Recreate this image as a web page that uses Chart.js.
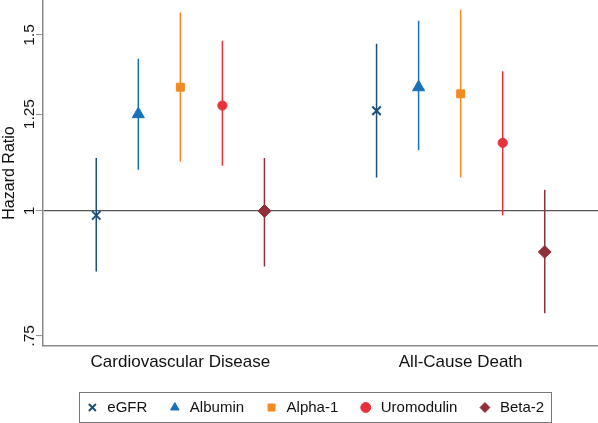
<!DOCTYPE html>
<html>
<head>
<meta charset="utf-8">
<script src="https://cdn.jsdelivr.net/npm/chart.js@4.4.1/dist/chart.umd.min.js"></script>
<style>
  html, body { margin: 0; padding: 0; background: #fff; }
  #wrap { width: 598px; height: 423px; position: relative; }
</style>
</head>
<body>
<div id="wrap"><canvas id="hrChart"></canvas></div>
<script>
// --- Data ---
const outcomes = ['Cardiovascular Disease', 'All-Cause Death'];
const biomarkers = ['eGFR', 'Albumin', 'Alpha-1', 'Uromodulin', 'Beta-2'];
const cvdHR = [0.99, 1.25, 1.33, 1.275, 1.00];
const cvdLow = [0.87, 1.10, 1.12, 1.11, 0.88];
const cvdHigh = [1.13, 1.42, 1.58, 1.48, 1.13];
const deathHR = [1.26, 1.33, 1.31, 1.17, 0.91];
const deathLow = [1.08, 1.15, 1.08, 0.99, 0.79];
const deathHigh = [1.47, 1.55, 1.59, 1.38, 1.05];
const yTicks = [0.75, 1, 1.25, 1.5];
const yTickLabels = ['.75', '1', '1.25', '1.5'];

// --- Styles ---
const FONT = '"Liberation Sans", Arial, Helvetica, sans-serif';
const TEXT = '#111';
const AXIS = '#8a8a8a';
const colors = ['#1c4f7c', '#1673b9', '#f38a22', '#e7323b', '#92303a'];
const shapes = ['crossRot', 'triangle', 'rect', 'circle', 'rectRot'];
const radii = [6, 7, 5.6, 4.6, 6.4];
const dodge = 0.15;

const xPos = (group, i) => group + (i - 2) * dodge;

const pointSets = biomarkers.map((name, i) => ({
    type: 'scatter',
    label: name,
    data: [{ x: xPos(0, i), y: cvdHR[i] }, { x: xPos(1, i), y: deathHR[i] }],
    pointStyle: shapes[i],
    pointRadius: radii[i],
    pointBackgroundColor: colors[i],
    pointBorderColor: colors[i],
    pointBorderWidth: i === 0 ? 2 : 1,
    backgroundColor: colors[i],
    borderColor: colors[i],
    showLine: false
}));

const ciSets = biomarkers.map((name, i) => ({
    type: 'line',
    label: name + ' CI',
    data: [
        { x: xPos(0, i), y: cvdLow[i] }, { x: xPos(0, i), y: cvdHigh[i] },
        { x: xPos(0, i), y: null },
        { x: xPos(1, i), y: deathLow[i] }, { x: xPos(1, i), y: deathHigh[i] }
    ],
    borderColor: colors[i],
    borderWidth: 1.5,
    pointRadius: 0,
    spanGaps: false,
    fill: false
}));

// rotated y tick labels + frame round the legend
const extrasPlugin = {
    id: 'extras',
    afterLayout(chart) {
        // legend sits a little left of the plot centre in the original
        const lg = chart.legend;
        if (lg) { lg.left -= 6; lg.right -= 6; }
    },
    afterDraw(chart) {
        const ctx = chart.ctx;
        const y = chart.scales.y;
        ctx.save();
        ctx.fillStyle = TEXT;
        ctx.font = '15.5px ' + FONT;
        ctx.textAlign = 'center';
        ctx.textBaseline = 'alphabetic';
        yTicks.forEach((v, i) => {
            ctx.save();
            ctx.translate(34, y.getPixelForValue(v));
            ctx.rotate(-Math.PI / 2);
            ctx.fillText(yTickLabels[i], 0, 0);
            ctx.restore();
        });

        const boxes = chart.legend.legendHitBoxes;
        if (boxes && boxes.length) {
            const left = Math.min(...boxes.map(b => b.left)) - 6;
            const right = Math.max(...boxes.map(b => b.left + b.width)) + 7;
            const top = Math.min(...boxes.map(b => b.top)) - 8;
            const bottom = Math.max(...boxes.map(b => b.top + b.height)) + 7;
            ctx.strokeStyle = '#777';
            ctx.lineWidth = 1;
            ctx.strokeRect(Math.round(left) + 0.5, Math.round(top) + 0.5, Math.round(right - left), Math.round(bottom - top));
        }
        ctx.restore();
    }
};

new Chart(document.getElementById('hrChart'), {
    data: { datasets: [...pointSets, ...ciSets] },
    options: {
        responsive: true,
        maintainAspectRatio: false,
        animation: false,
        events: [],
        layout: { autoPadding: false, padding: { top: 0, right: 0, bottom: -2, left: 0 } },
        scales: {
            x: {
                type: 'linear',
                min: -0.49,
                max: 1.49,
                afterBuildTicks: s => { s.ticks = outcomes.map((_, i) => ({ value: i })); },
                afterFit: s => { s.height = 34; },
                ticks: {
                    callback: v => outcomes[v],
                    font: { family: FONT, size: 17 },
                    color: TEXT,
                    padding: 6,
                    autoSkip: false,
                    maxRotation: 0
                },
                grid: { display: false, drawTicks: false },
                border: { color: AXIS, width: 1.5 }
            },
            y: {
                type: 'logarithmic',
                bounds: 'data',
                min: 0.7327,
                max: 1.626,
                afterBuildTicks: s => { s.ticks = yTicks.map(v => ({ value: v })); },
                afterFit: s => { s.width = 43; },
                ticks: { display: false },
                grid: {
                    color: c => (c.tick && c.tick.value === 1) ? '#555' : 'rgba(0,0,0,0)',
                    lineWidth: 1.2,
                    tickColor: AXIS,
                    tickWidth: 1,
                    tickLength: 7
                },
                border: { color: AXIS, width: 1.5 },
                title: {
                    display: true,
                    text: 'Hazard Ratio',
                    font: { family: FONT, size: 16 },
                    color: TEXT,
                    padding: 0
                }
            }
        },
        plugins: {
            tooltip: { enabled: false },
            legend: {
                position: 'bottom',
                fullSize: false,
                labels: {
                    usePointStyle: true,
                    boxWidth: 15,
                    boxHeight: 7,
                    padding: 20,
                    font: { family: FONT, size: 15 },
                    color: TEXT,
                    filter: item => item.datasetIndex < biomarkers.length
                }
            }
        }
    },
    plugins: [extrasPlugin]
});
</script>
</body>
</html>
